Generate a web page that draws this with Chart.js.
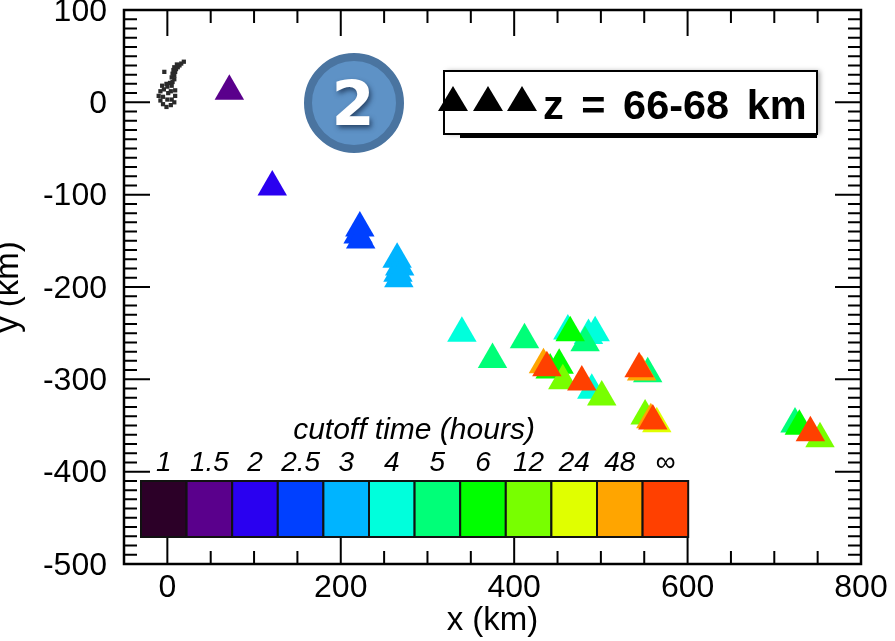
<!DOCTYPE html>
<html>
<head>
<meta charset="utf-8">
<title>z = 66-68 km</title>
<script src="https://cdn.jsdelivr.net/npm/chart.js@4"></script>
<style>
  html, body { margin: 0; padding: 0; background: #fff; }
  #wrap { width: 895px; height: 641px; }
</style>
</head>
<body>
<div id="wrap"><canvas id="cutoffChart"></canvas></div>
<script>
/* cutoff classes, same order as the colour bar */
const cutoffLabels = ['1', '1.5', '2', '2.5', '3', '4', '5', '6', '12', '24', '48', '∞'];
const cutoffColors = ['#2c0028', '#5a008c', '#2a00f0', '#0040ff', '#00b4ff', '#00ffdc',
                      '#00ff78', '#00ff00', '#78ff00', '#e0ff00', '#ffa500', '#ff4000'];

/* triangles (km), drawn in this order */
const triX = [71.5, 121, 222, 220, 223, 265, 268, 266, 267,
              339.7, 461.9, 485.7, 493.4, 489.5,
              411.9, 375, 481.8, 554, 723.9,
              464.6, 451.9, 441.5, 728.9,
              456.1, 501, 551, 752.7,
              564.5,
              433.8, 547, 557.6,
              437.7, 478, 544.1, 559.9, 741.6];
const triY = [11.9, -91.7, -136, -143.7, -149, -170, -178.4, -185, -191,
              -250.2, -247.7, -252.4, -249.5, -311.9,
              -257.1, -278.4, -260.4, -294, -348.4,
              -249.5, -284.8, -290, -350.9,
              -301.5, -319.2, -339.7, -364.3,
              -348,
              -284.2, -292, -343.8,
              -287.4, -302.8, -288.5, -345.2, -357.8];
const triClass = [1, 2, 3, 3, 3, 4, 4, 4, 4,
                  5, 5, 5, 5, 5,
                  6, 6, 6, 6, 6,
                  7, 7, 7, 7,
                  8, 8, 8, 8,
                  9,
                  10, 10, 10,
                  11, 11, 11, 11, 11];

/* small grey island near the origin */
const islandX = [-10, -8, -8, -5, -5, -4, -1, 0, 1, 0, 4, 5, 4, 5, 8, 9, 9, -6, -1, 3,
                 6, 8, 5, 8, 6, 9, 7, 10, 8, 12, 14, 11, 16, 19, -3.5];
const islandY = [7, 2, 12, -2, 6, 14, -5, 3, 10, 17, -3, 3, 12, 18, 0, 7, 13, 18, 20, 21,
                 22, 25, 27, 29, 31, 33, 35, 36, 38, 38, 40, 41, 42, 44, 33];

/* axis ticks */
const xTicks = [0, 200, 400, 600, 800];
const yTicks = [100, 0, -100, -200, -300, -400, -500];
const xMinorStep = 50;
const yMinorStep = 10;

const FONT = '"Liberation Sans", Arial, sans-serif';

/* ── frame and inward ticks on all four sides ── */
const framePlugin = {
  id: 'frame',
  afterDatasetsDraw(chart) {
    const { ctx, chartArea: a, scales: { x, y } } = chart;
    ctx.save();
    ctx.strokeStyle = '#000';
    ctx.lineWidth = 2;
    ctx.beginPath();
    for (let v = -50; v <= 800; v += xMinorStep) {
      const len = xTicks.includes(v) ? 26 : 13;
      const px = x.getPixelForValue(v);
      ctx.moveTo(px, a.top); ctx.lineTo(px, a.top + len);
      ctx.moveTo(px, a.bottom); ctx.lineTo(px, a.bottom - len);
    }
    for (let v = -500; v <= 100; v += yMinorStep) {
      const len = yTicks.includes(v) ? 26 : 13;
      const py = y.getPixelForValue(v);
      ctx.moveTo(a.left, py); ctx.lineTo(a.left + len, py);
      ctx.moveTo(a.right, py); ctx.lineTo(a.right - len, py);
    }
    ctx.stroke();
    ctx.lineWidth = 2.5;
    ctx.strokeRect(a.left, a.top, a.right - a.left, a.bottom - a.top);
    ctx.restore();
  }
};

/* ── colour bar, z box and the round badge ── */
const overlayPlugin = {
  id: 'overlay',
  afterDraw(chart) {
    const { ctx } = chart;
    ctx.save();

    // colour bar
    const barX = 141, barY = 481, cellW = 45.6, barH = 56;
    cutoffLabels.forEach((lab, i) => {
      ctx.fillStyle = cutoffColors[i];
      ctx.fillRect(barX + i * cellW, barY, cellW, barH);
      ctx.strokeStyle = '#111';
      ctx.lineWidth = 2;
      ctx.strokeRect(barX + i * cellW, barY, cellW, barH);
      ctx.fillStyle = '#000';
      ctx.font = 'italic 28px ' + FONT;
      ctx.textAlign = 'center';
      ctx.textBaseline = 'middle';
      ctx.fillText(lab, barX + (i + 0.5) * cellW, 463);
    });
    ctx.font = 'italic 30px ' + FONT;
    ctx.fillText('cutoff time (hours)', 414, 431);

    // z box
    ctx.fillStyle = '#000';
    ctx.fillRect(460, 133, 357, 5);
    ctx.shadowColor = 'rgba(0,0,0,.35)';
    ctx.shadowBlur = 5;
    ctx.shadowOffsetX = 3;
    ctx.fillStyle = '#fff';
    ctx.fillRect(444, 71, 373, 63);
    ctx.shadowColor = 'transparent';
    ctx.shadowBlur = 0;
    ctx.shadowOffsetX = 0;
    ctx.strokeStyle = '#000';
    ctx.lineWidth = 2;
    ctx.strokeRect(444, 71, 373, 63);
    ctx.fillStyle = '#000';
    [453, 488, 522].forEach(cx => {
      ctx.beginPath();
      ctx.moveTo(cx, 86);
      ctx.lineTo(cx + 15, 111);
      ctx.lineTo(cx - 15, 111);
      ctx.closePath();
      ctx.fill();
    });
    ctx.font = 'bold 41.5px ' + FONT;
    ctx.wordSpacing = '6px';
    ctx.textAlign = 'left';
    ctx.textBaseline = 'alphabetic';
    ctx.fillText('z = 66-68 km', 543, 119);
    ctx.wordSpacing = '0px';

    // badge
    ctx.beginPath();
    ctx.arc(354, 103, 46, 0, Math.PI * 2);
    ctx.fillStyle = '#5e92c6';
    ctx.fill();
    ctx.lineWidth = 8;
    ctx.strokeStyle = '#4a74a0';
    ctx.stroke();
    ctx.font = 'bold 62px "DejaVu Sans", sans-serif';
    ctx.textAlign = 'center';
    ctx.textBaseline = 'middle';
    ctx.shadowColor = 'rgba(20,40,70,.7)';
    ctx.shadowBlur = 5;
    ctx.shadowOffsetX = 2;
    ctx.shadowOffsetY = 3;
    ctx.fillStyle = '#fff';
    ctx.fillText('2', 353, 109);
    ctx.restore();
  }
};

new Chart(document.getElementById('cutoffChart'), {
  type: 'scatter',
  data: {
    datasets: [
      {
        label: 'island',
        data: islandX.map((v, i) => ({ x: v, y: islandY[i] })),
        pointStyle: 'rect',
        pointRadius: 3,
        pointBackgroundColor: '#2a2a2a',
        pointBorderWidth: 0
      },
      {
        label: 'z = 66-68 km',
        data: triX.map((v, i) => ({ x: v, y: triY[i] })),
        pointStyle: 'triangle',
        pointRadius: 17,
        pointBackgroundColor: triClass.map(c => cutoffColors[c]),
        pointBorderWidth: 0
      }
    ]
  },
  options: {
    responsive: true,
    maintainAspectRatio: false,
    animation: false,
    // autoPadding would reserve the triangle radius above the plot
    layout: { autoPadding: false, padding: { left: 0, right: 34, top: 10, bottom: 0 } },
    plugins: { legend: { display: false }, tooltip: { enabled: false } },
    scales: {
      x: {
        type: 'linear',
        min: -50,
        max: 800,
        afterBuildTicks: s => { s.ticks = xTicks.map(v => ({ value: v })); },
        afterFit: s => { s.height = 77; s.paddingLeft = 0; s.paddingRight = 0; },
        grid: { display: false, drawTicks: false },
        border: { display: false },
        ticks: {
          color: '#000',
          padding: 5,
          maxRotation: 0,
          autoSkip: false,
          font: { family: FONT, size: 32 }
        },
        title: {
          display: true,
          text: 'x (km)',
          color: '#000',
          padding: { top: 0, bottom: 0 },
          font: { family: FONT, size: 33 }
        }
      },
      y: {
        type: 'linear',
        min: -500,
        max: 100,
        afterBuildTicks: s => { s.ticks = yTicks.map(v => ({ value: v })); },
        afterFit: s => { s.width = 124; s.paddingTop = 0; s.paddingBottom = 0; },
        grid: { display: false, drawTicks: false },
        border: { display: false },
        ticks: {
          color: '#000',
          padding: 17,
          labelOffset: 2,
          autoSkip: false,
          font: { family: FONT, size: 32 }
        },
        title: {
          display: true,
          text: 'y (km)',
          color: '#000',
          padding: { top: -11, bottom: 0 },
          font: { family: FONT, size: 33 }
        }
      }
    }
  },
  plugins: [framePlugin, overlayPlugin]
});
</script>
</body>
</html>
